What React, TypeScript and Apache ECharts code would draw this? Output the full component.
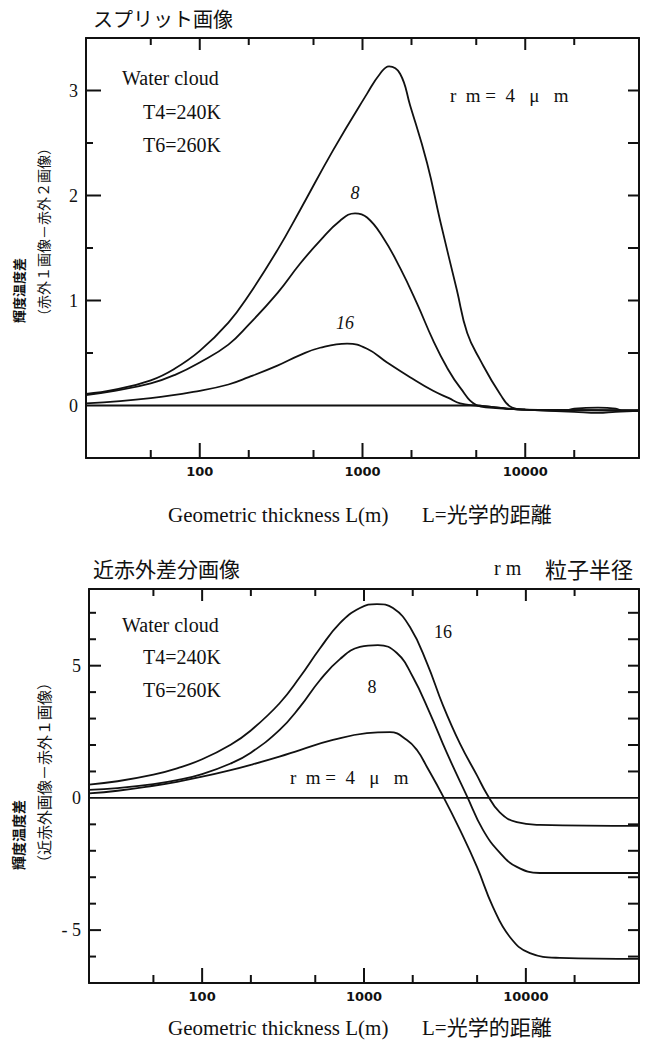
import React, { useEffect, useRef } from "react";
import * as echarts from "echarts";

// ---------- shared x axis (geometric thickness, log) ----------
const X_MIN = 20;
const X_MAX = 50000;
const xMajorTicks = [100, 1000, 10000];
const xMinorTicks = [50, 200, 500, 2000, 5000, 20000];
const xTickLabels = [100, 1000, 10000];

// ---------- top panel: split image ----------
const splitYLabels = [0, 1, 2, 3];
const splitYMajorTicks = [1, 2, 3];
const splitYMinorTicks = [0.5, 1.5, 2.5];
const splitYRightTicks = [0.5, 1, 1.5, 2, 2.5, 3];

const splitL4 = [20, 30, 50, 70, 100, 150, 200, 300, 413, 659, 1067, 1282, 1456, 1702, 1960, 2493, 3000, 3800, 4400, 5300, 7000, 8300, 10000, 17000, 20000, 28000, 36000, 40000, 50000];
const splitV4 = [0.11, 0.15, 0.24, 0.35, 0.52, 0.79, 1.05, 1.48, 1.86, 2.43, 2.97, 3.16, 3.23, 3.16, 2.86, 2.31, 1.76, 1.1, 0.69, 0.43, 0.11, -0.02, -0.04, -0.05, -0.03, -0.02, -0.03, -0.05, -0.05];

const splitL8 = [20, 30, 50, 70, 100, 150, 200, 300, 413, 549, 728, 900, 1067, 1337, 1702, 2164, 2716, 3311, 3981, 5060, 6000, 10000, 20000, 28000, 36000, 50000];
const splitV8 = [0.1, 0.14, 0.21, 0.29, 0.41, 0.58, 0.77, 1.07, 1.35, 1.57, 1.76, 1.83, 1.79, 1.6, 1.31, 0.97, 0.62, 0.36, 0.17, 0.0, -0.02, -0.04, -0.06, -0.07, -0.06, -0.05];

const splitL16 = [20, 50, 100, 150, 200, 300, 413, 549, 804, 1067, 1416, 1960, 2716, 3400, 3981, 5000, 6000, 10000, 50000];
const splitV16 = [0.02, 0.07, 0.14, 0.2, 0.27, 0.38, 0.48, 0.55, 0.59, 0.54, 0.41, 0.27, 0.14, 0.07, 0.02, 0.0, -0.01, -0.04, -0.05];

const splitBaseL = [20, 5000, 6000, 10000, 50000];
const splitBaseV = [0, 0, -0.01, -0.04, -0.045];

// ---------- bottom panel: near-IR difference image ----------
const nirYLabels = [-5, 0, 5];
const nirYMajorTicks = [-5, 5];
const nirYMinorTicks = [-6, -4, -3, -2, -1, 1, 2, 3, 4, 6, 7];
const nirYRightTicks = [-6, -5, -4, -3, -2, -1, 1, 2, 3, 4, 5, 6, 7];

const nirL16 = [20, 30, 50, 70, 100, 150, 200, 300, 402, 534, 710, 944, 1202, 1510, 1923, 2449, 3076, 3917, 4988, 5741, 6901, 8790, 12200, 50000];
const nirV16 = [0.5, 0.63, 0.88, 1.12, 1.46, 2.01, 2.55, 3.57, 4.57, 5.65, 6.61, 7.18, 7.33, 7.18, 6.46, 5.1, 3.5, 2.05, 0.85, 0.15, -0.55, -0.92, -1.02, -1.06];

const nirL8 = [20, 30, 50, 70, 100, 150, 200, 300, 402, 534, 710, 944, 1219, 1596, 2005, 2552, 3251, 4324, 5431, 6919, 8790, 12200, 50000];
const nirV8 = [0.3, 0.37, 0.52, 0.67, 0.9, 1.3, 1.71, 2.56, 3.44, 4.45, 5.25, 5.71, 5.78, 5.48, 4.57, 3.21, 1.7, 0.07, -1.21, -2.08, -2.61, -2.84, -2.84];

const nirL4 = [20, 30, 50, 70, 100, 150, 200, 300, 402, 643, 1042, 1445, 1841, 2124, 2449, 3076, 3917, 4988, 6256, 7965, 10590, 16200, 50000];
const nirV4 = [0.17, 0.27, 0.46, 0.61, 0.8, 1.05, 1.25, 1.56, 1.81, 2.19, 2.45, 2.49, 2.19, 1.81, 1.17, 0.07, -1.21, -2.61, -4.12, -5.26, -5.87, -6.05, -6.09];

const nirBaseL = [20, 50000];
const nirBaseV = [0, 0];

const INK = "#111";
const SERIF = "'Liberation Serif', 'DejaVu Serif', serif";
const CJK = "'Noto Sans CJK JP', 'Liberation Serif', sans-serif";
const MIXED = "'Liberation Serif', 'Noto Sans CJK JP', serif";

const pts = (xs: number[], ys: number[]) => xs.map((x, i) => [x, ys[i]]);

function xAxes(gridIndex: number) {
  return [
    {
      type: "log",
      logBase: 10,
      min: X_MIN,
      max: X_MAX,
      gridIndex,
      position: "bottom",
      splitLine: { show: false },
      axisLine: { show: true, onZero: false, lineStyle: { color: INK, width: 2 } },
      axisTick: { show: false },
      axisLabel: {
        show: true,
        customValues: xTickLabels,
        formatter: (v: number) => String(Math.round(v)),
        margin: 7,
        fontFamily: "DejaVu Sans",
        fontWeight: "bold",
        fontSize: 13,
        color: INK,
      },
    },
    {
      type: "log",
      logBase: 10,
      min: X_MIN,
      max: X_MAX,
      gridIndex,
      position: "top",
      splitLine: { show: false },
      axisLine: { show: true, onZero: false, lineStyle: { color: INK, width: 2 } },
      axisTick: { show: false },
      axisLabel: { show: false },
    },
  ];
}

function yAxes(gridIndex: number, min: number, max: number, labels: number[], fmt: (v: number) => string) {
  return [
    {
      type: "value",
      min,
      max,
      gridIndex,
      position: "left",
      splitLine: { show: false },
      axisLine: { show: true, onZero: false, lineStyle: { color: INK, width: 2 } },
      axisTick: { show: false },
      axisLabel: {
        show: true,
        customValues: labels,
        formatter: fmt,
        margin: 8,
        fontFamily: SERIF,
        fontSize: 18,
        color: INK,
      },
    },
    {
      type: "value",
      min,
      max,
      gridIndex,
      position: "right",
      splitLine: { show: false },
      axisLine: { show: true, onZero: false, lineStyle: { color: INK, width: 2 } },
      axisTick: { show: false },
      axisLabel: { show: false },
    },
  ];
}

function curve(name: string, data: number[][], xAxisIndex: number, yAxisIndex: number) {
  return {
    name,
    type: "line",
    data,
    xAxisIndex,
    yAxisIndex,
    symbol: "none",
    showSymbol: false,
    smooth: 0.45,
    silent: true,
    lineStyle: { color: INK, width: 1.8 },
  };
}

// inward tick marks drawn through the axes' own scales
function xTickSeries(xAxisIndex: number, yAxisIndex: number, yRef: number) {
  const data = [
    ...xMajorTicks.map((v) => [v, yRef, 15, 0]),
    ...xMinorTicks.map((v) => [v, yRef, 8, 0]),
    ...xMajorTicks.map((v) => [v, yRef, 12, 1]),
    ...xMinorTicks.map((v) => [v, yRef, 7, 1]),
  ];
  return {
    type: "custom",
    xAxisIndex,
    yAxisIndex,
    silent: true,
    clip: false,
    encode: { x: 0, y: 1 },
    data,
    renderItem: (params: any, api: any) => {
      const cs = params.coordSys;
      const px = api.coord([api.value(0), api.value(1)])[0];
      const len = api.value(2);
      const side = api.value(3);
      const y0 = side === 0 ? cs.y + cs.height : cs.y;
      const y1 = side === 0 ? y0 - len : y0 + len;
      return { type: "line", shape: { x1: px, y1: y0, x2: px, y2: y1 }, style: { stroke: INK, lineWidth: 2 } };
    },
  };
}

function yTickSeries(
  xAxisIndex: number,
  yAxisIndex: number,
  major: number[],
  majorLen: number,
  minor: number[],
  right: number[]
) {
  const xRef = 1000;
  const data = [
    ...major.map((v) => [xRef, v, majorLen, 0]),
    ...minor.map((v) => [xRef, v, 7, 0]),
    ...right.map((v) => [xRef, v, 11, 1]),
  ];
  return {
    type: "custom",
    xAxisIndex,
    yAxisIndex,
    silent: true,
    clip: false,
    encode: { x: 0, y: 1 },
    data,
    renderItem: (params: any, api: any) => {
      const cs = params.coordSys;
      const py = api.coord([api.value(0), api.value(1)])[1];
      const len = api.value(2);
      const side = api.value(3);
      const x0 = side === 0 ? cs.x : cs.x + cs.width;
      const x1 = side === 0 ? x0 + len : x0 - len;
      return { type: "line", shape: { x1: x0, y1: py, x2: x1, y2: py }, style: { stroke: INK, lineWidth: 2 } };
    },
  };
}

function txt(x: number, y: number, text: string, opts: any = {}) {
  return {
    type: "text",
    x,
    y,
    rotation: opts.rotation || 0,
    silent: true,
    style: {
      text,
      fill: INK,
      fontFamily: opts.family || SERIF,
      fontSize: opts.size || 20,
      fontWeight: opts.weight || "normal",
      fontStyle: opts.style || "normal",
      textAlign: opts.align || "left",
      textVerticalAlign: "middle",
    },
  };
}

export default function App() {
  const ref = useRef<HTMLDivElement>(null);

  useEffect(() => {
    if (!ref.current) return;
    const chart = echarts.init(ref.current, null, { renderer: "svg" });

    const fmtTop = (v: number) => String(Math.round(v));
    const fmtBottom = (v: number) => (v < 0 ? "- " + Math.abs(v) : String(v));

    const option = {
      animation: false,
      backgroundColor: "#fff",
      grid: [
        { left: 86, top: 38, width: 553, height: 420 },
        { left: 89, top: 589, width: 550, height: 394 },
      ],
      xAxis: [...xAxes(0), ...xAxes(1)],
      yAxis: [...yAxes(0, -0.5, 3.5, splitYLabels, fmtTop), ...yAxes(1, -7, 7.9, nirYLabels, fmtBottom)],
      series: [
        xTickSeries(0, 0, 0),
        yTickSeries(0, 0, splitYMajorTicks, 15, splitYMinorTicks, splitYRightTicks),
        curve("split base", pts(splitBaseL, splitBaseV), 0, 0),
        curve("split rm=4", pts(splitL4, splitV4), 0, 0),
        curve("split rm=8", pts(splitL8, splitV8), 0, 0),
        curve("split rm=16", pts(splitL16, splitV16), 0, 0),
        xTickSeries(2, 2, 0),
        yTickSeries(2, 2, nirYMajorTicks, 12, nirYMinorTicks, nirYRightTicks),
        curve("nir base", pts(nirBaseL, nirBaseV), 2, 2),
        curve("nir rm=4", pts(nirL4, nirV4), 2, 2),
        curve("nir rm=8", pts(nirL8, nirV8), 2, 2),
        curve("nir rm=16", pts(nirL16, nirV16), 2, 2),
      ],
      graphic: [
        // top panel
        txt(93, 18, "スプリット画像", { family: CJK, size: 20 }),
        txt(122, 78, "Water cloud", { size: 20 }),
        txt(143, 112, "T4=240K", { size: 20 }),
        txt(143, 145, "T6=260K", { size: 20 }),
        txt(450, 95, "r  m =  4   μ   m", { size: 19 }),
        txt(355, 193, "8", { size: 18, style: "italic", align: "center" }),
        txt(345, 323, "16", { size: 18, style: "italic", align: "center" }),
        txt(18, 323, "輝度温度差", { family: CJK, size: 13, weight: "bold", rotation: Math.PI / 2 }),
        txt(43, 323, "（赤外１画像－赤外２画像）", { family: CJK, size: 14, rotation: Math.PI / 2 }),
        txt(168, 515, "Geometric thickness L(m)", { size: 21 }),
        txt(422, 515, "L=光学的距離", { family: MIXED, size: 21 }),
        // bottom panel
        txt(93, 568, "近赤外差分画像", { family: CJK, size: 21 }),
        txt(494, 568, "r m", { size: 20 }),
        txt(545, 568, "粒子半径", { family: CJK, size: 22 }),
        txt(122, 625, "Water cloud", { size: 20 }),
        txt(143, 657, "T4=240K", { size: 20 }),
        txt(143, 690, "T6=260K", { size: 20 }),
        txt(443, 632, "16", { size: 18, align: "center" }),
        txt(372, 687, "8", { size: 18, align: "center" }),
        txt(290, 777, "r  m =  4   μ   m", { size: 19 }),
        txt(18, 870, "輝度温度差", { family: CJK, size: 14, weight: "bold", rotation: Math.PI / 2 }),
        txt(43, 870, "（近赤外画像－赤外１画像）", { family: CJK, size: 15, rotation: Math.PI / 2 }),
        txt(168, 1028, "Geometric thickness L(m)", { size: 21 }),
        txt(422, 1028, "L=光学的距離", { family: MIXED, size: 21 }),
      ],
    };

    chart.setOption(option as any);
    return () => chart.dispose();
  }, []);

  return (
    <div
      ref={ref}
      style={{ position: "absolute", left: 0, top: 0, width: 645, height: 1042, background: "#fff" }}
    />
  );
}
